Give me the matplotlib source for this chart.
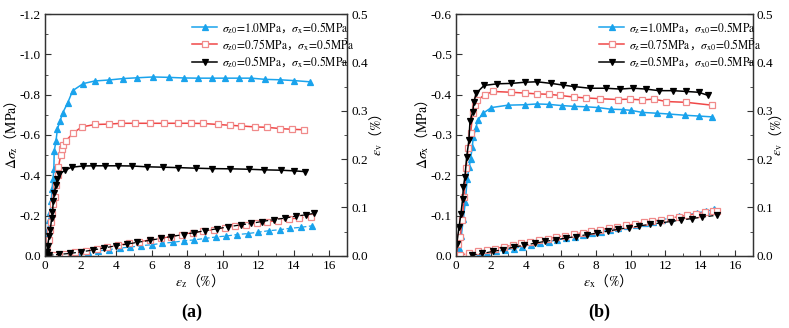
import matplotlib
matplotlib.use('Agg')
import matplotlib.pyplot as plt
from matplotlib.font_manager import FontProperties
from matplotlib.ticker import MultipleLocator, FormatStrFormatter

plt.rcParams['font.family'] = ['Liberation Serif', 'Noto Sans CJK SC']
plt.rcParams['mathtext.fontset'] = 'stix'
plt.rcParams['axes.unicode_minus'] = True

# text outside $...$ only holds the full-width signs, so it gets the CJK font
CJK = 'Noto Sans CJK SC'

BLUE = '#1AA3EC'
RED = '#F04848'
RED_MK = '#F08A8A'
BLACK = '#000000'

# ---------------- panel (a): stress vs eps_z ----------------
a_blue_x = [0, 0.08, 0.12, 0.18, 0.24, 0.3, 0.35, 0.4, 0.45, 0.5, 0.52, 0.62, 0.7, 0.85, 1.0, 1.28, 1.56,
            2.15, 2.8, 3.6, 4.4, 5.2, 6.1, 6.95, 7.8, 8.6, 9.4, 10.1, 10.9, 11.6, 12.4, 13.2, 14.0, 14.9]
a_blue_s = [0, -0.04, -0.09, -0.135, -0.18, -0.22, -0.27, -0.33, -0.38, -0.43, -0.52, -0.57, -0.63, -0.67,
            -0.71, -0.76, -0.82, -0.855, -0.868, -0.873, -0.88, -0.884, -0.888, -0.886, -0.883, -0.882, -0.882,
            -0.882, -0.882, -0.882, -0.876, -0.874, -0.87, -0.864]
a_red_x = [0, 0.12, 0.23, 0.28, 0.33, 0.41, 0.47, 0.54, 0.62, 0.71, 0.76, 0.88, 0.94, 1.03, 1.16, 1.6, 2.07,
           2.82, 3.6, 4.3, 5.07, 5.9, 6.7, 7.5, 8.2, 8.9, 9.76, 10.4, 11.0, 11.8, 12.5, 13.2, 13.9, 14.6]
a_red_s = [0, -0.04, -0.08, -0.13, -0.17, -0.21, -0.255, -0.29, -0.35, -0.40, -0.44, -0.5, -0.53, -0.55,
           -0.57, -0.61, -0.64, -0.652, -0.654, -0.658, -0.658, -0.658, -0.658, -0.658, -0.658, -0.657, -0.652,
           -0.648, -0.645, -0.64, -0.638, -0.632, -0.628, -0.626]
a_blk_x = [0, 0.1, 0.15, 0.24, 0.3, 0.38, 0.42, 0.47, 0.53, 0.6, 0.7, 0.8, 1.13, 1.5, 2.16, 2.72, 3.38, 4.13,
           4.9, 5.73, 6.66, 7.5, 8.5, 9.4, 10.4, 11.45, 12.3, 13.3, 14.0, 14.65]
a_blk_s = [0, -0.02, -0.05, -0.1, -0.13, -0.19, -0.22, -0.27, -0.31, -0.35, -0.38, -0.405, -0.425, -0.44,
           -0.446, -0.447, -0.447, -0.447, -0.446, -0.442, -0.44, -0.438, -0.435, -0.433, -0.432, -0.43,
           -0.427, -0.425, -0.422, -0.418]

# panel (a): volumetric strain
a_blue_vx = [0.6, 1.2, 1.8, 2.4, 3.0, 3.6, 4.2, 4.8, 5.4, 6.0, 6.6, 7.2, 7.8, 8.4, 9.0, 9.6, 10.2, 10.8,
             11.4, 12.0, 12.6, 13.2, 13.8, 14.4, 15.0]
a_blue_ev = [0.000, 0.003, 0.006, 0.008, 0.010, 0.013, 0.016, 0.018, 0.021, 0.023, 0.026, 0.028, 0.031,
             0.033, 0.036, 0.039, 0.041, 0.044, 0.046, 0.049, 0.052, 0.054, 0.057, 0.059, 0.062]
a_red_vx = [0.5, 1.1, 1.7, 2.3, 2.9, 3.5, 4.1, 4.7, 5.3, 5.9, 6.5, 7.1, 7.7, 8.3, 8.9, 9.5, 10.1, 10.7,
            11.3, 11.9, 12.5, 13.1, 13.7, 14.3, 14.95]
a_red_ev = [0.001, 0.004, 0.007, 0.010, 0.014, 0.018, 0.022, 0.026, 0.029, 0.033, 0.036, 0.040, 0.044,
            0.048, 0.051, 0.054, 0.058, 0.061, 0.064, 0.067, 0.070, 0.073, 0.076, 0.078, 0.081]
a_blk_vx = [0.2, 0.8, 1.4, 2.0, 2.7, 3.3, 4.0, 4.6, 5.2, 5.9, 6.5, 7.1, 7.8, 8.4, 9.0, 9.7, 10.3, 11.0,
            11.6, 12.2, 12.9, 13.5, 14.1, 14.7, 15.15]
a_blk_ev = [0.001, 0.003, 0.005, 0.008, 0.012, 0.016, 0.021, 0.024, 0.028, 0.032, 0.036, 0.040, 0.044,
            0.048, 0.052, 0.056, 0.060, 0.064, 0.067, 0.071, 0.075, 0.078, 0.082, 0.085, 0.088]

# ---------------- panel (b): stress vs eps_x ----------------
b_blue_x = [0, 0.15, 0.3, 0.42, 0.53, 0.64, 0.75, 0.83, 0.93, 0.99, 1.14, 1.23, 1.55, 2.03, 2.98, 3.93,
            4.63, 5.3, 6.05, 6.78, 7.44, 8.14, 8.87, 9.55, 10.04, 10.67, 11.5, 12.2, 13.1, 13.9, 14.65]
b_blue_s = [0, -0.02, -0.05, -0.092, -0.134, -0.19, -0.22, -0.24, -0.27, -0.296, -0.317, -0.336, -0.354,
            -0.368, -0.374, -0.375, -0.377, -0.376, -0.373, -0.371, -0.37, -0.368, -0.364, -0.363, -0.361,
            -0.356, -0.354, -0.352, -0.349, -0.347, -0.345]
b_red_x = [0, 0.13, 0.23, 0.36, 0.46, 0.57, 0.7, 0.84, 0.95, 1.08, 1.21, 1.65, 2.12, 3.17, 3.93, 4.63, 5.3,
           5.98, 6.78, 7.44, 8.24, 9.28, 9.95, 10.67, 11.33, 12.05, 13.2, 14.65]
b_red_s = [0, -0.03, -0.046, -0.088, -0.146, -0.217, -0.267, -0.304, -0.354, -0.375, -0.386, -0.4, -0.408,
           -0.406, -0.404, -0.402, -0.401, -0.398, -0.394, -0.392, -0.39, -0.388, -0.389, -0.387, -0.389,
           -0.383, -0.381, -0.374]
b_blk_x = [0, 0.04, 0.17, 0.28, 0.38, 0.42, 0.51, 0.61, 0.74, 0.8, 0.95, 1.03, 1.14, 1.61, 2.37, 3.17, 3.97,
           4.65, 5.45, 6.11, 6.78, 7.67, 8.58, 9.4, 10.15, 10.86, 11.62, 12.43, 13.19, 13.9, 14.46]
b_blk_s = [0, -0.03, -0.071, -0.104, -0.142, -0.171, -0.196, -0.246, -0.288, -0.335, -0.356, -0.381,
           -0.403, -0.423, -0.427, -0.428, -0.431, -0.432, -0.428, -0.424, -0.42, -0.416, -0.416, -0.414,
           -0.416, -0.414, -0.41, -0.41, -0.408, -0.406, -0.398]

# panel (b): volumetric strain
b_blue_vx = [0.8, 1.3, 1.8, 2.3, 2.8, 3.3, 3.8, 4.3, 4.8, 5.3, 5.8, 6.3, 6.8, 7.3, 7.8, 8.3, 8.8, 9.3, 9.8,
             10.3, 10.8, 11.3, 11.8, 12.3, 12.8, 13.3, 13.8, 14.3, 14.8]
b_blue_ev = [0.000, 0.003, 0.006, 0.009, 0.012, 0.015, 0.019, 0.022, 0.026, 0.029, 0.033, 0.036, 0.040,
             0.043, 0.047, 0.050, 0.054, 0.057, 0.061, 0.064, 0.068, 0.071, 0.075, 0.078, 0.082, 0.085,
             0.089, 0.092, 0.096]
b_red_vx = [0.25, 0.75, 1.25, 1.75, 2.25, 2.75, 3.25, 3.75, 4.25, 4.75, 5.25, 5.75, 6.25, 6.75, 7.25, 7.75,
            8.25, 8.75, 9.25, 9.75, 10.25, 10.75, 11.25, 11.75, 12.25, 12.75, 13.25, 13.75, 14.25, 14.75,
            14.95]
b_red_ev = [0.002, 0.005, 0.009, 0.012, 0.015, 0.019, 0.022, 0.026, 0.029, 0.032, 0.035, 0.039, 0.042,
            0.045, 0.048, 0.051, 0.054, 0.057, 0.060, 0.063, 0.066, 0.069, 0.072, 0.075, 0.078, 0.081,
            0.084, 0.087, 0.090, 0.092, 0.093]
b_blk_vx = [0.9, 1.5, 2.1, 2.7, 3.3, 3.9, 4.5, 5.1, 5.7, 6.3, 6.9, 7.5, 8.1, 8.7, 9.3, 9.9, 10.5, 11.1,
            11.7, 12.3, 12.9, 13.5, 14.1, 14.95]
b_blk_ev = [0.001, 0.005, 0.009, 0.013, 0.018, 0.022, 0.026, 0.030, 0.033, 0.037, 0.040, 0.044, 0.047,
            0.051, 0.055, 0.058, 0.062, 0.065, 0.068, 0.071, 0.074, 0.077, 0.080, 0.084]

a_labels = [r'$\sigma_{\mathrm{z0}}\!=\!\mathrm{1.0MPa}$，$\sigma_{\mathrm{x}}\!=\!\mathrm{0.5MPa}$',
            r'$\sigma_{\mathrm{z0}}\!=\!\mathrm{0.75MPa}$，$\sigma_{\mathrm{x}}\!=\!\mathrm{0.5MPa}$',
            r'$\sigma_{\mathrm{z0}}\!=\!\mathrm{0.5MPa}$，$\sigma_{\mathrm{x}}\!=\!\mathrm{0.5MPa}$']
b_labels = [r'$\sigma_{\mathrm{z}}\!=\!\mathrm{1.0MPa}$，$\sigma_{\mathrm{x0}}\!=\!\mathrm{0.5MPa}$',
            r'$\sigma_{\mathrm{z}}\!=\!\mathrm{0.75MPa}$，$\sigma_{\mathrm{x0}}\!=\!\mathrm{0.5MPa}$',
            r'$\sigma_{\mathrm{z}}\!=\!\mathrm{0.5MPa}$，$\sigma_{\mathrm{x0}}\!=\!\mathrm{0.5MPa}$']

STYLES = [dict(color=BLUE, marker='^', mfc=BLUE, mec=BLUE),
          dict(color=RED, marker='s', mfc='white', mec=RED_MK),
          dict(color=BLACK, marker='v', mfc=BLACK, mec=BLACK)]

fig = plt.figure(figsize=(7.89, 3.28), dpi=100)


def style_axis(ax, ax2, ymax, ymajor, ylabel, xlabel, rlab_x):
    ax.set_xlim(0, 17)
    ax.set_ylim(0, ymax)
    ax.xaxis.set_major_locator(MultipleLocator(2))
    ax.xaxis.set_minor_locator(MultipleLocator(1))
    ax.yaxis.set_major_locator(MultipleLocator(ymajor))
    ax.yaxis.set_minor_locator(MultipleLocator(ymajor / 2))
    ax.yaxis.set_major_formatter(FormatStrFormatter('%.1f'))
    ax.tick_params(which='both', direction='in', labelsize=9.5, pad=3, color='#333333')
    ax.tick_params(which='major', length=4)
    ax.tick_params(which='minor', length=2)
    ax.set_ylabel(ylabel, fontsize=10, labelpad=0, family=CJK)
    ax.set_xlabel(xlabel, fontsize=10, labelpad=0, family=CJK)
    ax2.set_ylim(0, 0.5)
    ax2.yaxis.set_major_locator(MultipleLocator(0.1))
    ax2.yaxis.set_minor_locator(MultipleLocator(0.05))
    ax2.yaxis.set_major_formatter(FormatStrFormatter('%.1f'))
    ax2.tick_params(which='both', direction='in', labelsize=9.5, pad=3, color='#333333')
    ax2.tick_params(which='major', length=4)
    ax2.tick_params(which='minor', length=2)
    ax2.set_ylabel(r'$\varepsilon_{\mathrm{v}}$（$\mathrm{\%}$）', fontsize=10, family=CJK)
    ax2.yaxis.set_label_coords(rlab_x, 0.5)
    for a in (ax, ax2):
        for sp in a.spines.values():
            sp.set_color('#333333')
            sp.set_linewidth(0.9)


def draw_panel(rect, stress, vol, labels, ymax, ymajor, ylabel, xlabel, tag, tag_x, leg_x, rlab_x):
    ax = fig.add_axes(rect)
    ax2 = ax.twinx()
    handles = []
    for (xs, ys), st, lab in zip(stress, STYLES, labels):
        h, = ax.plot(xs, ys, lw=1.1, ms=4.8, mew=0.9, label=lab, **st)
        handles.append(h)
    for (xs, ys), st in zip(vol, STYLES):
        ax2.plot(xs, ys, lw=0.9, ls=(0, (4, 2)), ms=4.8, mew=0.9, **st)
    style_axis(ax, ax2, ymax, ymajor, ylabel, xlabel, rlab_x)
    ax2.legend(handles, labels, loc='upper left', bbox_to_anchor=(leg_x, 1.006), frameon=False,
               prop=FontProperties(family=CJK, size=8.3), handlelength=2.2, handletextpad=0.4,
               labelspacing=0.2, borderaxespad=0.2)
    fig.text(tag_x, 0.048, tag, ha='center', va='center', fontsize=13, fontweight='bold')


draw_panel([0.057, 0.22, 0.383, 0.737],
           [(a_blue_x, a_blue_s), (a_red_x, a_red_s), (a_blk_x, a_blk_s)],
           [(a_blue_vx, a_blue_ev), (a_red_vx, a_red_ev), (a_blk_vx, a_blk_ev)],
           a_labels, -1.2, 0.2, r'$\Delta\sigma_{\mathrm{z}}$（$\mathrm{MPa}$）',
           r'$\varepsilon_{\mathrm{z}}$（$\mathrm{\%}$）', '(a)', 0.243, 0.464, 1.066)
draw_panel([0.578, 0.22, 0.376, 0.737],
           [(b_blue_x, b_blue_s), (b_red_x, b_red_s), (b_blk_x, b_blk_s)],
           [(b_blue_vx, b_blue_ev), (b_red_vx, b_red_ev), (b_blk_vx, b_blk_ev)],
           b_labels, -0.6, 0.1, r'$\Delta\sigma_{\mathrm{x}}$（$\mathrm{MPa}$）',
           r'$\varepsilon_{\mathrm{x}}$（$\mathrm{\%}$）', '(b)', 0.760, 0.458, 1.05)

fig.savefig('out.png', dpi=100)
